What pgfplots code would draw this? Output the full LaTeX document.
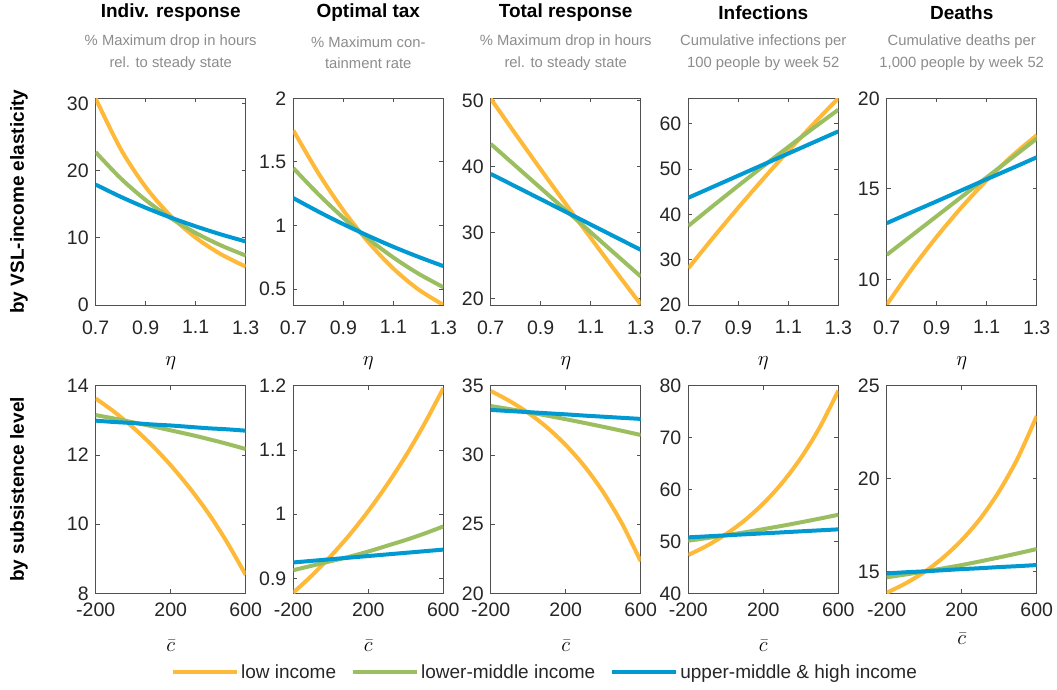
\documentclass[border=0pt]{standalone}
\usepackage{pgfplots}
\pgfplotsset{compat=1.18}
\usepackage{fontspec}
\setmainfont{Liberation Sans}
\definecolor{cOr}{RGB}{254,185,56}
\definecolor{cGr}{RGB}{155,190,97}
\definecolor{cBl}{RGB}{0,153,210}
\definecolor{axgray}{RGB}{80,80,80}
\definecolor{tickc}{RGB}{38,38,38}
\definecolor{subgray}{RGB}{140,140,140}
\newcommand\fs[1]{\fontsize{#1}{#1}\selectfont}
\pgfplotsset{
 base/.style={scale only axis, width=150pt, anchor=south west,
  axis line style={draw=axgray, line width=0.8pt},
  every tick/.style={axgray, line width=0.8pt},
  major tick length=4pt, tick align=inside,
  tick label style={font=\fs{19.5}, text=tickc},
  yticklabel style={xshift=-3.5pt, inner ysep=1pt},
  legend image code/.code={\draw[#1] (0pt,0pt) -- (64pt,0pt);},
 },
 toprow/.style={base, height=206.7pt, xmin=0.7, xmax=1.3, xtick={0.7,0.9,1.1,1.3}, xticklabels={0.7,0.9,1.1,1.3}, xticklabel style={yshift=-12pt}},
 botrow/.style={base, height=207.6pt, xmin=-200, xmax=600, xtick={-200,200,600}, xticklabels={-200,200,600}, xticklabel style={yshift=-6pt}},
 pO/.style={cOr, line width=4pt, smooth},
 pG/.style={cGr, line width=4pt, smooth},
 pB/.style={cBl, line width=4pt, smooth},
}
\begin{document}
\begin{tikzpicture}
\useasboundingbox (0,0) rectangle (1057pt,689pt);
% ---------------- top row ----------------
\begin{axis}[toprow, at={(95.7pt,384pt)}, ymin=0, ymax=30.75, ytick={0,10,20,30}, yticklabels={0,10,20,30}]
\addplot[pO] coordinates {(0.7,30.7)(0.8,23.20)(0.9,17.54)(1.0,13.25)(1.1,10.02)(1.2,7.57)(1.3,5.72)};
\addplot[pG] coordinates {(0.7,22.74)(0.8,18.84)(0.9,15.61)(1.0,12.94)(1.1,10.72)(1.2,8.88)(1.3,7.36)};
\addplot[pB] coordinates {(0.7,17.91)(0.8,16.10)(0.9,14.47)(1.0,13.01)(1.1,11.70)(1.2,10.51)(1.3,9.45)};
\end{axis}
\begin{axis}[toprow, at={(293.3pt,384pt)}, ymin=0.374, ymax=2, ytick={0.5,1,1.5,2}, yticklabels={0.5,1,1.5,2}]
\addplot[pO] coordinates {(0.7,1.748)(0.8,1.412)(0.9,1.119)(1.0,0.869)(1.1,0.661)(1.2,0.497)(1.3,0.375)};
\addplot[pG] coordinates {(0.7,1.451)(0.8,1.246)(0.9,1.060)(1.0,0.895)(1.1,0.748)(1.2,0.621)(1.3,0.514)};
\addplot[pB] coordinates {(0.7,1.215)(0.8,1.109)(0.9,1.010)(1.0,0.918)(1.1,0.832)(1.2,0.753)(1.3,0.680)};
\end{axis}
\begin{axis}[toprow, at={(490.7pt,384pt)}, ymin=19.0, ymax=50.35, ytick={20,30,40,50}, yticklabels={20,30,40,50}]
\addplot[pO] coordinates {(0.7,50.3)(0.8,44.89)(0.9,39.57)(1.0,34.33)(1.1,29.17)(1.2,24.09)(1.3,19.1)};
\addplot[pG] coordinates {(0.7,43.43)(0.8,40.08)(0.9,36.73)(1.0,33.38)(1.1,30.03)(1.2,26.68)(1.3,23.33)};
\addplot[pB] coordinates {(0.7,38.89)(0.8,36.97)(0.9,35.05)(1.0,33.13)(1.1,31.21)(1.2,29.29)(1.3,27.37)};
\end{axis}
\begin{axis}[toprow, at={(688.3pt,384pt)}, ymin=20, ymax=65.6, ytick={20,30,40,50,60}, yticklabels={20,30,40,50,60}]
\addplot[pO] coordinates {(0.7,28.1)(0.8,34.91)(0.9,41.49)(1.0,47.85)(1.1,53.99)(1.2,59.91)(1.3,65.6)};
\addplot[pG] coordinates {(0.7,37.44)(0.8,41.92)(0.9,46.32)(1.0,50.64)(1.1,54.87)(1.2,59.02)(1.3,63.08)};
\addplot[pB] coordinates {(0.7,43.66)(0.8,46.10)(0.9,48.54)(1.0,50.98)(1.1,53.42)(1.2,55.86)(1.3,58.30)};
\end{axis}
\begin{axis}[toprow, at={(886.7pt,384pt)}, ymin=8.58, ymax=20, ytick={10,15,20}, yticklabels={10,15,20}]
\addplot[pO] coordinates {(0.7,8.6)(0.8,10.56)(0.9,12.35)(1.0,13.99)(1.1,15.47)(1.2,16.80)(1.3,17.96)};
\addplot[pG] coordinates {(0.7,11.35)(0.8,12.42)(0.9,13.49)(1.0,14.56)(1.1,15.63)(1.2,16.70)(1.3,17.77)};
\addplot[pB] coordinates {(0.7,13.10)(0.8,13.71)(0.9,14.31)(1.0,14.92)(1.1,15.53)(1.2,16.13)(1.3,16.74)};
\end{axis}
% ---------------- bottom row ----------------
\begin{axis}[botrow, at={(95.7pt,95.7pt)}, ymin=8, ymax=14, ytick={8,10,12,14}, yticklabels={8,10,12,14}]
\addplot[pO] coordinates {(-200,13.63)(-100,13.24)(0,12.79)(100,12.28)(200,11.70)(300,11.05)(400,10.32)(500,9.48)(600,8.53)};
\addplot[pG] coordinates {(-200,13.15)(-100,13.05)(0,12.94)(100,12.83)(200,12.71)(300,12.59)(400,12.46)(500,12.32)(600,12.17)};
\addplot[pB] coordinates {(-200,12.99)(-100,12.95)(0,12.92)(100,12.88)(200,12.85)(300,12.81)(400,12.77)(500,12.74)(600,12.70)};
\end{axis}
\begin{axis}[botrow, at={(293.3pt,95.7pt)}, ymin=0.877, ymax=1.2, ytick={0.9,1,1.1,1.2}, yticklabels={0.9,1,1.1,1.2}]
\addplot[pO] coordinates {(-200,0.878)(-100,0.905)(0,0.935)(100,0.968)(200,1.005)(300,1.046)(400,1.091)(500,1.141)(600,1.196)};
\addplot[pG] coordinates {(-200,0.913)(-100,0.920)(0,0.927)(100,0.934)(200,0.942)(300,0.951)(400,0.960)(500,0.970)(600,0.981)};
\addplot[pB] coordinates {(-200,0.925)(-100,0.9275)(0,0.930)(100,0.9325)(200,0.935)(300,0.9375)(400,0.940)(500,0.9425)(600,0.945)};
\end{axis}
\begin{axis}[botrow, at={(490.7pt,95.7pt)}, ymin=20, ymax=35, ytick={20,25,30,35}, yticklabels={20,25,30,35},
  legend style={at={(0.362,-0.379)}, anchor=center, draw=none, fill=none, legend columns=3,
    font=\fs{19}, text=tickc, nodes={inner sep=2.5pt},
    /tikz/every even column/.append style={column sep=12pt}}]
\addplot[pO] coordinates {(-200,34.62)(-100,33.90)(0,33.04)(100,31.99)(200,30.72)(300,29.18)(400,27.31)(500,25.05)(600,22.31)};
\addlegendentry{low income}
\addplot[pG] coordinates {(-200,33.53)(-100,33.31)(0,33.08)(100,32.84)(200,32.58)(300,32.31)(400,32.03)(500,31.74)(600,31.44)};
\addlegendentry{lower-middle income}
\addplot[pB] coordinates {(-200,33.25)(-100,33.17)(0,33.09)(100,33.01)(200,32.93)(300,32.84)(400,32.76)(500,32.68)(600,32.60)};
\addlegendentry{upper-middle \& high income}
\end{axis}
\begin{axis}[botrow, at={(688.3pt,95.7pt)}, ymin=40, ymax=80, ytick={40,50,60,70,80}, yticklabels={40,50,60,70,80}]
\addplot[pO] coordinates {(-200,47.38)(-100,49.18)(0,51.38)(100,54.04)(200,57.30)(300,61.25)(400,66.06)(500,71.91)(600,79.03)};
\addplot[pG] coordinates {(-200,50.14)(-100,50.64)(0,51.18)(100,51.75)(200,52.36)(300,53.00)(400,53.68)(500,54.39)(600,55.13)};
\addplot[pB] coordinates {(-200,50.78)(-100,50.97)(0,51.17)(100,51.36)(200,51.55)(300,51.74)(400,51.94)(500,52.13)(600,52.32)};
\end{axis}
\begin{axis}[botrow, at={(886.7pt,95.7pt)}, ymin=13.84, ymax=25, ytick={15,20,25}, yticklabels={15,20,25}]
\addplot[pO] coordinates {(-200,13.87)(-100,14.37)(0,14.98)(100,15.75)(200,16.70)(300,17.87)(400,19.33)(500,21.13)(600,23.37)};
\addplot[pG] coordinates {(-200,14.70)(-100,14.85)(0,15.01)(100,15.18)(200,15.36)(300,15.56)(400,15.77)(500,15.99)(600,16.22)};
\addplot[pB] coordinates {(-200,14.91)(-100,14.97)(0,15.02)(100,15.08)(200,15.14)(300,15.19)(400,15.25)(500,15.30)(600,15.36)};
\end{axis}
% ---------------- texts ----------------
\foreach \x/\t in {170.7/Indiv. response, 368.3/Optimal tax, 565.7/Total response, 763.3/Infections, 961.7/Deaths}
  \node[font=\bfseries\fs{19}, text=black] at (\x pt, 676pt) {\t};
\foreach \x/\a/\b in {170.7/\% Maximum drop in hours/rel. to steady state, 368.3/\% Maximum con-/tainment rate, 565.7/\% Maximum drop in hours/rel. to steady state, 763.3/Cumulative infections per/100 people by week 52, 961.7/{Cumulative deaths per}/{1,000 people by week 52}}
  \node[align=center, font=\fontsize{14.8}{21.3}\selectfont, text=subgray] at (\x pt, 636.2pt) {\a\\\b};
\foreach \x in {170.7, 368.3, 565.7, 763.3, 961.7}
  \node[font=\fs{21}] at (\x pt, 326pt) {$\eta$};
\foreach \x/\y in {170.7/43, 368.3/43, 565.7/43, 763.3/43, 961.7/50}
  \node[font=\fs{21}] at (\x pt, \y pt) {$\bar{c}$};
\node[rotate=90, font=\bfseries\fs{19}] at (19pt, 487.3pt) {by VSL-income elasticity};
\node[rotate=90, font=\bfseries\fs{19}] at (19pt, 199.5pt) {by subsistence level};
\end{tikzpicture}
\end{document}
